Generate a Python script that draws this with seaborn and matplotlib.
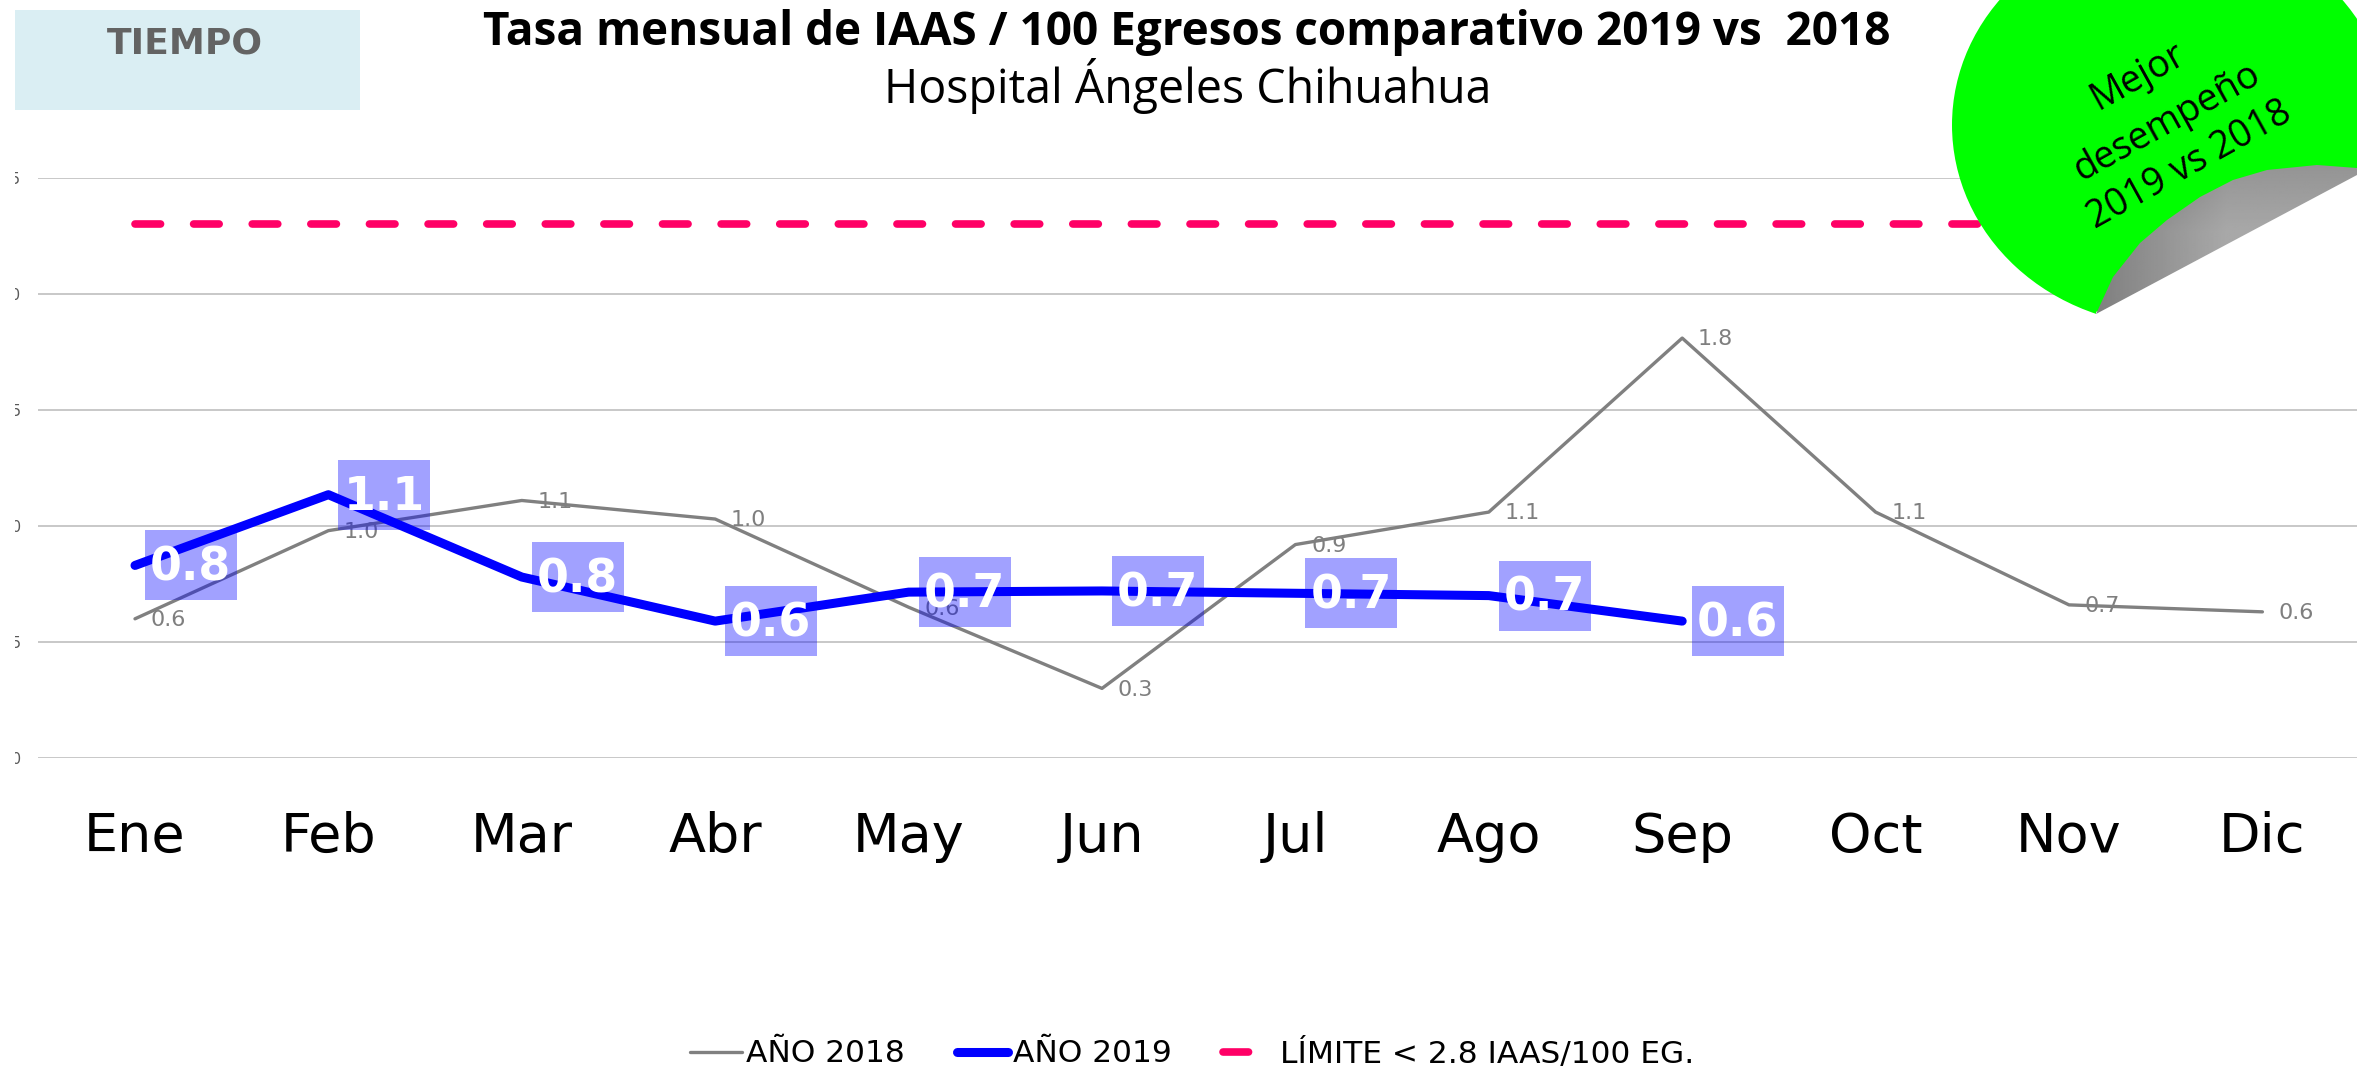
import numpy as np
import pandas as pd
import matplotlib
matplotlib.use("Agg")
import matplotlib.pyplot as plt
import seaborn as sns
from matplotlib.patches import Rectangle, Ellipse, Polygon
from matplotlib.transforms import IdentityTransform

meses = ["Ene", "Feb", "Mar", "Abr", "May", "Jun", "Jul", "Ago", "Sep", "Oct", "Nov", "Dic"]
anio_2018 = [0.60, 0.98, 1.11, 1.03, 0.65, 0.30, 0.92, 1.06, 1.81, 1.06, 0.66, 0.63]
etiquetas_2018 = ["0.6", "1.0", "1.1", "1.0", "0.6", "0.3", "0.9", "1.1", "1.8", "1.1", "0.7", "0.6"]
anio_2019 = [0.83, 1.135, 0.78, 0.59, 0.715, 0.72, 0.71, 0.70, 0.59]
etiquetas_2019 = ["0.8", "1.1", "0.8", "0.6", "0.7", "0.7", "0.7", "0.7", "0.6"]
limite = [2.3] * 12
yticks = [0, 0.5, 1.0, 1.5, 2.0, 2.5]

W, H = 2357, 1067
sns.set_theme(style="white")
plt.rcParams["font.family"] = ["DejaVu Sans"]
plt.rcParams["lines.scale_dashes"] = False

fig = plt.figure(figsize=(W / 100, H / 100), dpi=100, facecolor="white")
ax = fig.add_axes([38 / W, 1 - 758 / H, (W - 38) / W, (758 - 178) / H])

sns.lineplot(x=meses, y=anio_2018, ax=ax, color="#808080", linewidth=2.4, sort=False,
             errorbar=None, estimator=None, label="AÑO 2018", zorder=2, solid_capstyle="round")
sns.lineplot(x=meses[:len(anio_2019)], y=anio_2019, ax=ax, color="#0000ff", linewidth=6.5, sort=False,
             errorbar=None, estimator=None, label="AÑO 2019", zorder=4, solid_capstyle="round")
sns.lineplot(x=meses, y=limite, ax=ax, color="#ff0066", linewidth=5.5, sort=False,
             errorbar=None, estimator=None, label="LÍMITE < 2.8 IAAS/100 EG.", zorder=2,
             linestyle=(0, (18.4, 23.8)), dash_capstyle="round")

x0, dx = 135, 193.4
ax.set_xlim((38 - x0) / dx, (W - x0) / dx)
ax.set_ylim(0, 2.5)
ax.set_yticks(yticks)
ax.set_yticklabels([f"{v:.1f}" for v in yticks], fontsize=11, color="#595959")
ax.tick_params(axis="y", length=0, pad=12)
ax.tick_params(axis="x", length=0, pad=38, labelsize=39, labelcolor="black")
ax.grid(axis="y", color="#c4c4c4", linewidth=1.3, zorder=0)
ax.grid(axis="x", visible=False)
ax.set_axisbelow(True)
for s in ax.spines.values():
    s.set_visible(False)
ax.patch.set_alpha(0)
ax.set_xlabel("")
ax.set_ylabel("")

for i, (v, t) in enumerate(zip(anio_2018, etiquetas_2018)):
    ax.annotate(t, (i, v), xytext=(24, -1), textcoords="offset points", ha="center", va="center",
                fontsize=16, color="#7f7f7f", zorder=3, annotation_clip=False)

fig.canvas.draw()
for i, (v, t) in enumerate(zip(anio_2019, etiquetas_2019)):
    px = ax.transData.transform((i, v))
    ax.add_patch(Rectangle((px[0] + 10, px[1] - 35), 92, 70, transform=IdentityTransform(),
                           facecolor="#0000ff", alpha=0.37, edgecolor="none", zorder=3))
    ax.annotate(t, (i, v), xytext=(40, -2), textcoords="offset points", ha="center", va="center",
                fontsize=33, fontweight="bold", color="white", zorder=6)

ax.legend(loc="center", bbox_to_anchor=(1192 / W, 1 - 1053 / H), bbox_transform=fig.transFigure,
          ncol=3, frameon=False, fontsize=22.5, handlelength=1.65, handletextpad=0.15,
          columnspacing=1.65, labelcolor="black")

# capa de decoracion en pixeles
ov = fig.add_axes([0, 0, 1, 1], zorder=5)
ov.set_xlim(0, W)
ov.set_ylim(H, 0)
ov.axis("off")
ov.patch.set_alpha(0)

ov.add_patch(Rectangle((0, 0), 15, H, facecolor="white", edgecolor="none", zorder=1))
ov.add_patch(Rectangle((15, 10), 345, 100, facecolor="#daeef3", edgecolor="none", zorder=2))
ov.text(185, 44, "TIEMPO", ha="center", va="center", fontsize=26, fontweight="bold", color="#636363", zorder=3)

ov.add_patch(Ellipse((2171, 125), 438, 402, facecolor="#00ff00", edgecolor="none", zorder=2))
tip = (2096, 314)
curva = [tip, (2113, 277), (2140, 243), (2167, 220), (2200, 197), (2233, 180), (2267, 170),
         (2317, 165), (2357, 168)]
recta = [(2357, 175)]
ov.add_patch(Polygon([(2096, 312), (2357, 173), (2357, 345), (2096, 345)], facecolor="white", edgecolor="none", zorder=3))
clip = Polygon(curva + recta, closed=True, facecolor="none", edgecolor="none", transform=ov.transData)
ov.add_patch(clip)
gx, gy = np.meshgrid(np.linspace(0, 1, 200), np.linspace(0, 1, 120))
grad = 0.50 + 0.16 * np.clip(gx / 0.5, 0, 1) - 0.08 * np.clip((0.45 - gy) / 0.45, 0, 1)
im = ov.imshow(grad, extent=(2096, 2357, 314, 165), cmap="gray", vmin=0, vmax=1,
               aspect="auto", zorder=4, interpolation="bilinear")
im.set_clip_path(clip)
ov.set_xlim(0, W)
ov.set_ylim(H, 0)

rot = 29
for txt, cx, cy in [("Mejor", 2138, 77), ("desempeño", 2167, 122), ("2019 vs 2018", 2190, 165)]:
    ov.text(cx, cy, txt, rotation=rot, rotation_mode="anchor", ha="center", va="center",
            fontsize=27, family="Open Sans", color="black", zorder=5)

ov.text(1187, 32, "Tasa mensual de IAAS / 100 Egresos comparativo 2019 vs  2018", ha="center", va="center",
        fontsize=33, fontweight="bold", family="Open Sans", color="black", zorder=5)
ov.text(1188, 86, "Hospital Ángeles Chihuahua", ha="center", va="center",
        fontsize=33.5, family="Open Sans", color="black", zorder=5)

fig.savefig("out.png", dpi=100, facecolor="white")
